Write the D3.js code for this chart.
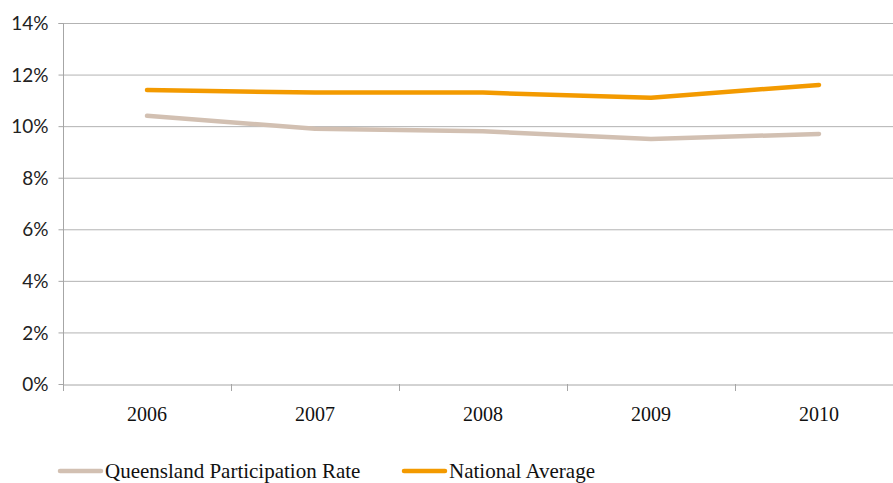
<!DOCTYPE html>
<html><head><meta charset="utf-8">
<script src="https://cdn.jsdelivr.net/npm/d3@7"></script>
<style>body{margin:0;background:#fff}svg{display:block}
.serif{font-family:"Liberation Serif","DejaVu Serif","Times New Roman",serif}
.sans{font-family:Lato,"Open Sans",sans-serif}</style>
</head><body>
<script>
const years = ["2006","2007","2008","2009","2010"];
const queensland = [10.4, 9.9, 9.8, 9.5, 9.7];
const national = [11.4, 11.3, 11.3, 11.1, 11.6];
const yTicks = [0, 2, 4, 6, 8, 10, 12, 14];
const seriesNames = ["Queensland Participation Rate", "National Average"];
const seriesColors = ["#D2C0B2", "#F39A00"];

const W = 893, H = 483;
const plotLeft = 63, plotTop = 23, plotBottom = 384, plotRight = 903;

const svg = d3.select("body").append("svg").attr("width", W).attr("height", H);

const x = d3.scaleBand().domain(years).range([plotLeft, plotRight]);
const y = d3.scaleLinear().domain([0, 14]).range([plotBottom, plotTop]);

// horizontal gridlines
svg.append("g").selectAll("line").data(yTicks.filter(d => d > 0)).join("line")
  .attr("x1", plotLeft).attr("x2", plotRight)
  .attr("y1", d => y(d) + 0.5).attr("y2", d => y(d) + 0.5)
  .attr("stroke", "#b3b3b3").attr("stroke-width", 1);

// y axis
const yAxis = svg.append("g").attr("transform", `translate(${plotLeft + 0.5},0)`)
  .call(d3.axisLeft(y).tickValues(yTicks).tickSize(5).tickPadding(10).tickFormat(d => d + "%"));
yAxis.attr("font-family", null);
yAxis.select(".domain").attr("stroke", "#a6a6a6").attr("d", `M-5,${y(14)+0.5}H0V${plotBottom+0.5}`);
yAxis.selectAll(".tick line").attr("stroke", "#a6a6a6");
yAxis.selectAll(".tick text").attr("class", "sans")
  .attr("font-size", 19).attr("fill", "#222").attr("dy", "0.35em");

// x axis
const xAxis = svg.append("g").attr("transform", `translate(0,${plotBottom + 0.5})`)
  .call(d3.axisBottom(x).tickSize(0).tickPadding(22));
xAxis.attr("font-family", null);
xAxis.select(".domain").attr("stroke", "#a6a6a6");
xAxis.selectAll(".tick text").attr("class", "serif")
  .attr("font-size", 20).attr("fill", "#111");
// category boundary ticks
svg.append("g").selectAll("line").data(years).join("line")
  .attr("x1", d => Math.round(x(d)) + 0.5).attr("x2", d => Math.round(x(d)) + 0.5)
  .attr("y1", plotBottom).attr("y2", plotBottom + 7)
  .attr("stroke", "#a6a6a6");

const line = d3.line().x((d, i) => x(years[i]) + x.bandwidth() / 2).y(d => y(d));
[queensland, national].forEach((s, k) => {
  svg.append("path").datum(s).attr("d", line)
    .attr("fill", "none").attr("stroke", seriesColors[k])
    .attr("stroke-width", 4.5).attr("stroke-linecap", "round").attr("stroke-linejoin", "round");
});

// legend
const legendX = [60, 404];
seriesNames.forEach((n, k) => {
  const g = svg.append("g").attr("transform", `translate(${legendX[k]},471)`);
  g.append("line").attr("x1", 0).attr("x2", 41).attr("stroke", seriesColors[k])
    .attr("stroke-width", 4.5).attr("stroke-linecap", "round");
  g.append("text").attr("class", "serif").attr("x", 45).attr("y", 0).attr("dy", "0.35em")
    .attr("font-size", 21).attr("fill", "#111").text(n);
});
</script>
</body></html>
